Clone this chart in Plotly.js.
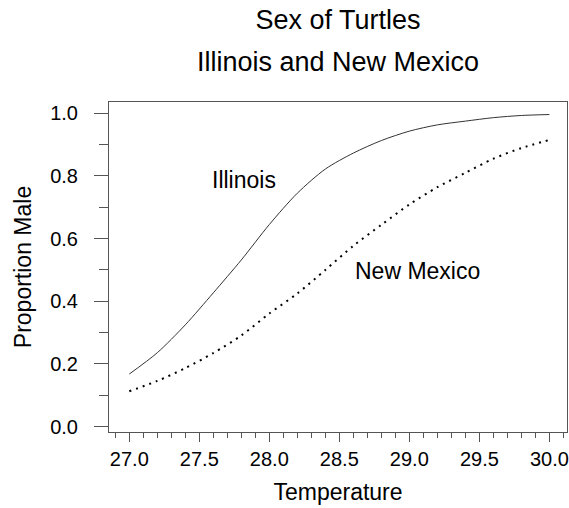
<!DOCTYPE html>
<html>
<head>
<meta charset="utf-8">
<script src="https://cdn.plot.ly/plotly-3.0.1.min.js"></script>
<style>html,body{margin:0;padding:0;background:#fff;}#chart{width:569px;height:508px;}</style>
</head>
<body>
<div id="chart"></div>
<script>
const temperature = [27.0, 27.2, 27.4, 27.6, 27.8, 28.0, 28.2, 28.4, 28.6, 28.8, 29.0, 29.2, 29.4, 29.6, 29.8, 30.0];
const illinois   = [0.168, 0.236, 0.325, 0.427, 0.532, 0.645, 0.745, 0.822, 0.873, 0.913, 0.943, 0.963, 0.975, 0.986, 0.993, 0.996];
const newMexico  = [0.113, 0.146, 0.187, 0.235, 0.291, 0.361, 0.425, 0.500, 0.577, 0.644, 0.709, 0.764, 0.810, 0.855, 0.889, 0.915];
const xTickVals = [27.0, 27.5, 28.0, 28.5, 29.0, 29.5, 30.0];
const yTickVals = [0.0, 0.2, 0.4, 0.6, 0.8, 1.0];

const FONT = 'Liberation Sans, Arial, sans-serif';
const traces = [
  {x: temperature, y: illinois, type: 'scatter', mode: 'lines', name: 'Illinois',
   line: {color: '#333333', width: 1, shape: 'spline', smoothing: 0.8}},
  {x: temperature, y: newMexico, type: 'scatter', mode: 'lines', name: 'New Mexico',
   line: {color: '#000000', width: 2, dash: '2px,5px', shape: 'spline', smoothing: 0.8}}
];
const layout = {
  width: 569, height: 508,
  margin: {l: 109, r: 2, t: 102, b: 76},
  paper_bgcolor: '#ffffff', plot_bgcolor: '#ffffff',
  showlegend: false,
  font: {family: FONT, color: '#000000'},
  title: {text: 'Sex of Turtles', font: {family: FONT, size: 27, color: '#000'},
          xref: 'paper', x: 0.5, xanchor: 'center', yref: 'container', y: 1 - 20/508, yanchor: 'middle'},
  xaxis: {
    range: [26.855, 30.126], tickvals: xTickVals, ticktext: xTickVals.map(v => v.toFixed(1)),
    ticks: 'outside', ticklen: 9, tickwidth: 1, tickcolor: '#555',
    minor: {dtick: 0.1, ticks: 'outside', ticklen: 5, tickwidth: 1, tickcolor: '#555', showgrid: false},
    showline: true, linecolor: '#555', linewidth: 1, mirror: true,
    showgrid: false, zeroline: false,
    tickfont: {family: FONT, size: 20, color: '#000'},
    title: {text: 'Temperature', font: {family: FONT, size: 23, color: '#000'}, standoff: 14}
  },
  yaxis: {
    range: [-0.017, 1.036], tickvals: yTickVals, ticktext: yTickVals.map(v => v.toFixed(1)),
    ticks: 'outside', ticklen: 14, tickwidth: 1, tickcolor: '#555', ticklabelstandoff: 12,
    minor: {dtick: 0.1, ticks: 'outside', ticklen: 9, tickwidth: 1, tickcolor: '#555', showgrid: false},
    showline: true, linecolor: '#555', linewidth: 1, mirror: true,
    showgrid: false, zeroline: false,
    tickfont: {family: FONT, size: 20, color: '#000'},
    title: {text: 'Proportion Male', font: {family: FONT, size: 23, color: '#000'}, standoff: 12}
  },
  annotations: [
    {text: 'Illinois and New Mexico', xref: 'paper', yref: 'paper', x: 0.5, y: (432 - 62) / 330,
     xanchor: 'center', yanchor: 'middle', showarrow: false, font: {family: FONT, size: 27, color: '#000'}},
    {text: 'Illinois', xref: 'x', yref: 'y', x: 27.82, y: 0.787, xanchor: 'center', yanchor: 'middle',
     showarrow: false, font: {family: FONT, size: 23, color: '#000'}},
    {text: 'New Mexico', xref: 'x', yref: 'y', x: 29.055, y: 0.497, xanchor: 'center', yanchor: 'middle',
     showarrow: false, font: {family: FONT, size: 23, color: '#000'}}
  ]
};
Plotly.newPlot('chart', traces, layout, {displayModeBar: false, staticPlot: true});
</script>
</body>
</html>
